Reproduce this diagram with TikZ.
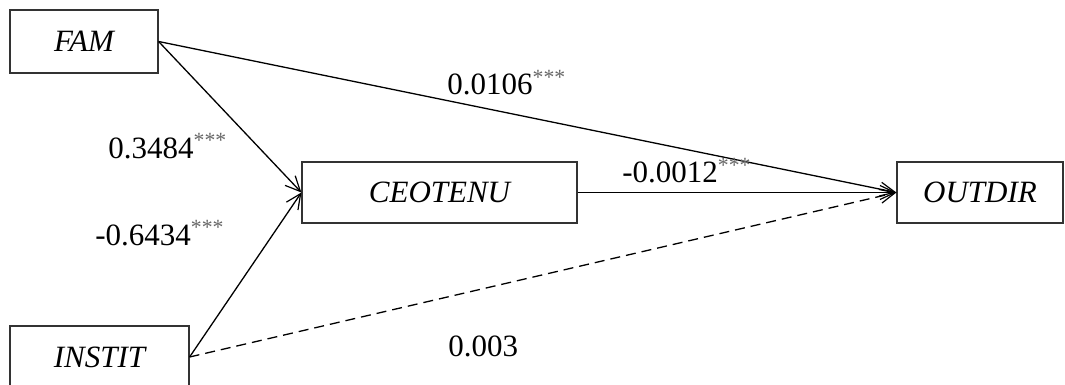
\documentclass[tikz,border=0pt]{standalone}
\usepackage{fontspec}
\setmainfont{Liberation Serif}
\usetikzlibrary{arrows.meta}
\begin{document}
\begin{tikzpicture}[x=0.5pt,y=-0.5pt,
  box/.style={draw=black!80,line width=0.6pt,inner sep=0pt,font=\fontsize{15.5}{18}\selectfont\itshape},
  conn/.style={line width=0.65pt,-{Straight Barb[length=7.5pt,width=7pt,line width=0.6pt]}},
  lab/.style={anchor=base west,inner sep=0pt,font=\fontsize{15.5}{18}\selectfont}]
\useasboundingbox (0,0) rectangle (1065,385);
\node[box,minimum width=74pt,minimum height=31.5pt] (fam) at (84,41.5) {FAM};
\node[box,minimum width=89.5pt,minimum height=31pt] (inst) at (99.5,357) {INSTIT};
\node[box,minimum width=137.5pt,minimum height=30.5pt] (ceo) at (439.5,192.5) {CEOTENU};
\node[box,minimum width=83pt,minimum height=30.5pt] (out) at (980,192.5) {OUTDIR};
\draw[conn] (fam.east) -- (out.west);
\draw[conn] (fam.east) -- (ceo.west);
\draw[conn] (inst.east) -- (ceo.west);
\draw[conn] (ceo.east) -- (out.west);
\draw[conn,dash pattern=on 5pt off 3pt] (inst.east) -- (out.west);
\newcommand\sigstars{\textsuperscript{\color{black!60}***}}
\node[lab] (l1) at (447,95) {0.0106\sigstars};
\node[lab] (l2) at (108,158) {0.3484\sigstars};
\node[lab] (l3) at (95,245) {-0.6434\sigstars};
\node[lab] (l4) at (622,183) {-0.0012\sigstars};
\node[lab] (l5) at (448,356) {0.003};
\end{tikzpicture}
\end{document}
